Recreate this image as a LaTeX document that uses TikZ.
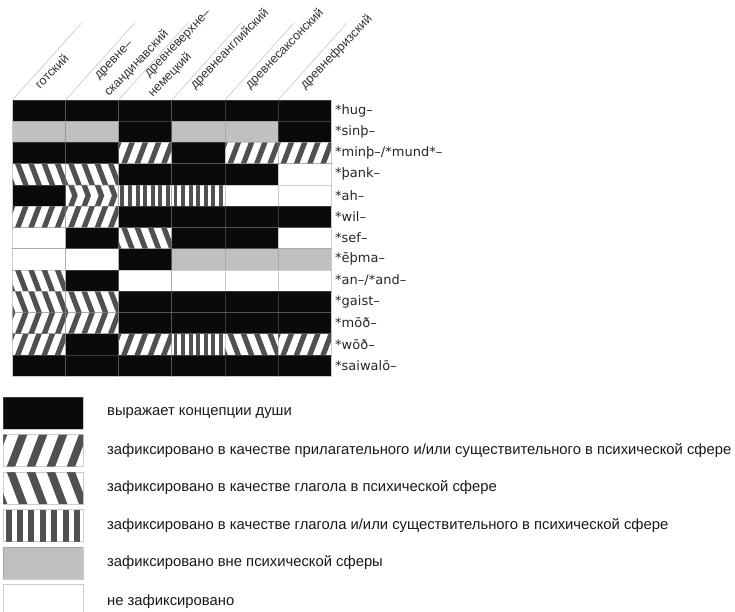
\documentclass[tikz,border=0pt]{standalone}
\usepackage{fontspec}
\setmainfont{Liberation Sans}
\newfontfamily\lblfont{DejaVu Sans}
\definecolor{cellblack}{HTML}{0A0A0A}
\definecolor{cellgray}{HTML}{C0C0C0}
\definecolor{stripecol}{HTML}{505050}
\tikzset{
  gridline/.style={draw=black!50, draw opacity=0.4, line width=0.8pt},
  stripe/.style={fill=stripecol},
  headline/.style={draw=black!30, line width=0.4pt},
  headtext/.style={rotate=46, anchor=base west, inner sep=0pt, text=black!80, font=\fontsize{12.5}{14}\selectfont},
  rowlabel/.style={anchor=west, inner sep=0pt, text=black!85, font=\lblfont\fontsize{13}{15}\selectfont},
  legtext/.style={anchor=west, inner sep=0pt, text=black!90, font=\fontsize{14.8}{17}\selectfont}
}
\newcommand\cellB[4]{\fill[cellblack] (#1,#2) rectangle ++(#3,#4); \draw[gridline] (#1,#2) rectangle ++(#3,#4);}
\newcommand\cellG[4]{\fill[cellgray] (#1,#2) rectangle ++(#3,#4); \draw[gridline] (#1,#2) rectangle ++(#3,#4);}
\newcommand\cellW[4]{\fill[white] (#1,#2) rectangle ++(#3,#4); \draw[gridline] (#1,#2) rectangle ++(#3,#4);}
\newcommand\cellS[4]{%
  \fill[white] (#1,#2) rectangle ++(#3,#4);
  \begin{scope}
    \clip (#1,#2) rectangle ++(#3,#4);
    \foreach \k in {-1,0,1,2,3,4}{
      \fill[stripe] ({#1+0.047*#3+\k*#3/4},{#2+#4}) -- ++({0.105*#3},0) -- ++({0.38*#4},{-#4}) -- ++({-0.105*#3},0) -- cycle;}
  \end{scope}
  \draw[gridline] (#1,#2) rectangle ++(#3,#4);}
\newcommand\cellK[4]{%
  \fill[white] (#1,#2) rectangle ++(#3,#4);
  \begin{scope}
    \clip (#1,#2) rectangle ++(#3,#4);
    \foreach \k in {-1,0,1,2,3,4}{
      \fill[stripe] ({#1+0.047*#3+\k*#3/4},{#2}) -- ++({0.105*#3},0) -- ++({0.38*#4},{#4}) -- ++({-0.105*#3},0) -- cycle;}
  \end{scope}
  \draw[gridline] (#1,#2) rectangle ++(#3,#4);}
\newcommand\cellC[4]{%
  \fill[white] (#1,#2) rectangle ++(#3,#4);
  \begin{scope}
    \clip (#1,#2) rectangle ++(#3,#4);
    \foreach \k in {-1,0,1,2,3,4}{
      \fill[stripe] ({#1+0.047*#3+\k*#3/4},{#2}) -- ++({0.19*#4},{#4/2}) -- ++({-0.19*#4},{#4/2}) -- ++({0.105*#3},0) -- ++({0.19*#4},{-#4/2}) -- ++({-0.19*#4},{-#4/2}) -- cycle;}
  \end{scope}
  \draw[gridline] (#1,#2) rectangle ++(#3,#4);}
\newcommand\cellV[4]{%
  \fill[white] (#1,#2) rectangle ++(#3,#4);
  \foreach \k in {0,...,6}{
    \fill[stripe] ({#1+0.032*#3+\k*#3/7},{#2}) rectangle ++({0.075*#3},{#4});}
  \draw[gridline] (#1,#2) rectangle ++(#3,#4);}
\begin{document}
\begin{tikzpicture}[x=1pt, y=-1pt]
\useasboundingbox (0,0) rectangle (735,612);
% header lines
\foreach \c in {0,...,5}{
  \draw[headline] ({12.5+\c*53.1},100) -- ++(69,-77);
}
% header texts
\node[headtext] (h1) at (40,90) {готский};
\node[headtext] (h2a) at (99,80) {древне–};
\node[headtext] (h2b) at (109,97) {скандинавский};
\node[headtext] (h3a) at (149,78) {древневерхне–};
\node[headtext] (h3b) at (153,98) {немецкий};
\node[headtext] (h4) at (195,90) {древнеанглийский};
\node[headtext] (h5) at (250,90) {древнесаксонский};
\node[headtext] (h6) at (305,90) {древнефризский};
% grid
\foreach \row [count=\r] in {
  {B,B,B,B,B,B},
  {G,G,B,G,G,B},
  {B,B,S,B,S,S},
  {K,K,B,B,B,W},
  {B,C,V,V,W,W},
  {S,S,B,B,B,B},
  {W,B,K,B,B,W},
  {W,W,B,G,G,G},
  {K,B,W,W,W,W},
  {K,K,B,B,B,B},
  {S,S,B,B,B,B},
  {S,B,S,V,K,S},
  {B,B,B,B,B,B}}{
  \foreach \t [count=\c] in \row {
    \pgfmathsetmacro\xo{12.5+(\c-1)*53.1}
    \pgfmathsetmacro\yo{100+(\r-1)*21.25}
    \csname cell\t\endcsname{\xo}{\yo}{53.1}{21.25}
  }
}
% row labels
\foreach \lab [count=\r] in {*hug–,*sinþ–,*minþ–/*mund*–,*þank–,*ah–,*wil–,*sef–,*ēþma–,*an–/*and–,*gaist–,*mōð–,*wōð–,*saiwalō–}{
  \node[rowlabel] (r\r) at (335,{100+(\r-0.5)*21.25}) {\lab};
}
% legend
\cellB{3}{397}{80}{32}
\cellS{3}{434.5}{80}{32}
\cellK{3}{472}{80}{32}
\cellV{3}{509.5}{80}{32}
\cellG{3}{547}{80}{32}
\cellW{3}{584.5}{80}{32}
\node[legtext] (l1) at (107,413) {выражает концепции души};
\node[legtext] (l2) at (107,450.5) {зафиксировано в качестве прилагательного и/или существительного в психической сфере};
\node[legtext] (l3) at (107,488) {зафиксировано в качестве глагола в психической сфере};
\node[legtext] (l4) at (107,525.5) {зафиксировано в качестве глагола и/или существительного в психической сфере};
\node[legtext] (l5) at (107,563) {зафиксировано вне психической сферы};
\node[legtext] (l6) at (107,602) {не зафиксировано};
\end{tikzpicture}
\end{document}
